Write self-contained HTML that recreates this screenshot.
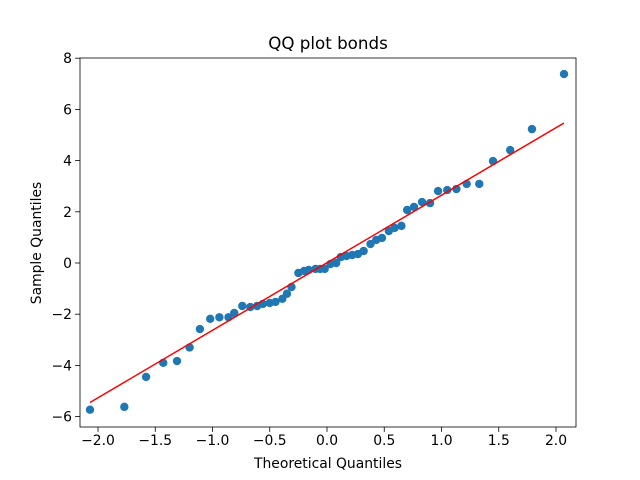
<!DOCTYPE html>
<html><head><meta charset="utf-8"><style>body{margin:0;background:#fff}svg{display:block;font-family:"DejaVu Sans","Liberation Sans",sans-serif}</style></head>
<body>
<svg id="c" width="640" height="480" xmlns="http://www.w3.org/2000/svg"></svg>
<script>
const theoretical=[-2.07,-1.77,-1.58,-1.43,-1.31,-1.2,-1.11,-1.02,-0.94,-0.86,-0.81,-0.74,-0.67,-0.61,-0.56,-0.5,-0.45,-0.39,-0.35,-0.31,-0.25,-0.2,-0.16,-0.1,-0.06,-0.02,0.03,0.08,0.12,0.17,0.22,0.27,0.32,0.38,0.43,0.48,0.54,0.59,0.65,0.7,0.76,0.83,0.9,0.97,1.05,1.13,1.22,1.33,1.45,1.6,1.79,2.07];
const sample=[-5.73,-5.62,-4.45,-3.9,-3.83,-3.3,-2.58,-2.18,-2.12,-2.12,-1.95,-1.68,-1.72,-1.68,-1.6,-1.56,-1.52,-1.4,-1.2,-0.94,-0.39,-0.31,-0.27,-0.23,-0.23,-0.23,-0.04,0,0.23,0.27,0.31,0.35,0.47,0.74,0.9,0.98,1.25,1.37,1.45,2.07,2.19,2.38,2.34,2.81,2.85,2.89,3.09,3.09,3.98,4.41,5.23,7.38];
const lineX=[-2.07,2.07];
const lineY=[-5.45,5.47];
const xTicks=[-2.0,-1.5,-1.0,-0.5,0.0,0.5,1.0,1.5,2.0];
const xTickLabels=["−2.0","−1.5","−1.0","−0.5","0.0","0.5","1.0","1.5","2.0"];
const yTicks=[-6,-4,-2,0,2,4,6,8];
const yTickLabels=["−6","−4","−2","0","2","4","6","8"];
const L=80,R=576,T=58,B=427;
const sx=v=>327+v*114.5;
const sy=v=>263-v*25.6;
const svg=document.getElementById('c');
const NS='http://www.w3.org/2000/svg';
function mk(t,a,txt){const e=document.createElementNS(NS,t);for(const k in a)e.setAttribute(k,a[k]);if(txt!=null)e.textContent=txt;svg.appendChild(e);return e;}
for(let i=0;i<theoretical.length;i++){
 const p=mk('circle',{cx:sx(theoretical[i]),cy:sy(sample[i]),r:4.2,fill:'#1f77b4'});
 
 
}
const ln=mk('line',{x1:sx(lineX[0]),y1:sy(lineY[0]),x2:sx(lineX[1]),y2:sy(lineY[1]),stroke:'#ff0000','stroke-width':1.5});


const fr=mk('rect',{x:L,y:T,width:R-L,height:B-T,fill:'none',stroke:'#000','stroke-width':0.8});


xTicks.forEach((v,i)=>{
 mk('line',{x1:sx(v),x2:sx(v),y1:B,y2:B+4.9,stroke:'#000','stroke-width':0.8});
 const t=mk('text',{x:sx(v),y:B+18,'font-size':13.9,'text-anchor':'middle'},xTickLabels[i]);
 
 
});
yTicks.forEach((v,i)=>{
 mk('line',{x1:L-4.9,x2:L,y1:sy(v),y2:sy(v),stroke:'#000','stroke-width':0.8});
 const t=mk('text',{x:L-8,y:sy(v)+5,'font-size':13.9,'text-anchor':'end'},yTickLabels[i]);
 
 
});
const ti=mk('text',{x:328,y:49,'font-size':16.7,'text-anchor':'middle'},'QQ plot bonds');


const xl=mk('text',{x:328,y:468,'font-size':13.9,'text-anchor':'middle'},'Theoretical Quantiles');


const yl=mk('text',{x:41,y:243,'font-size':13.9,'text-anchor':'middle',transform:'rotate(-90 41 243)'},'Sample Quantiles');


</script>
</body></html>
